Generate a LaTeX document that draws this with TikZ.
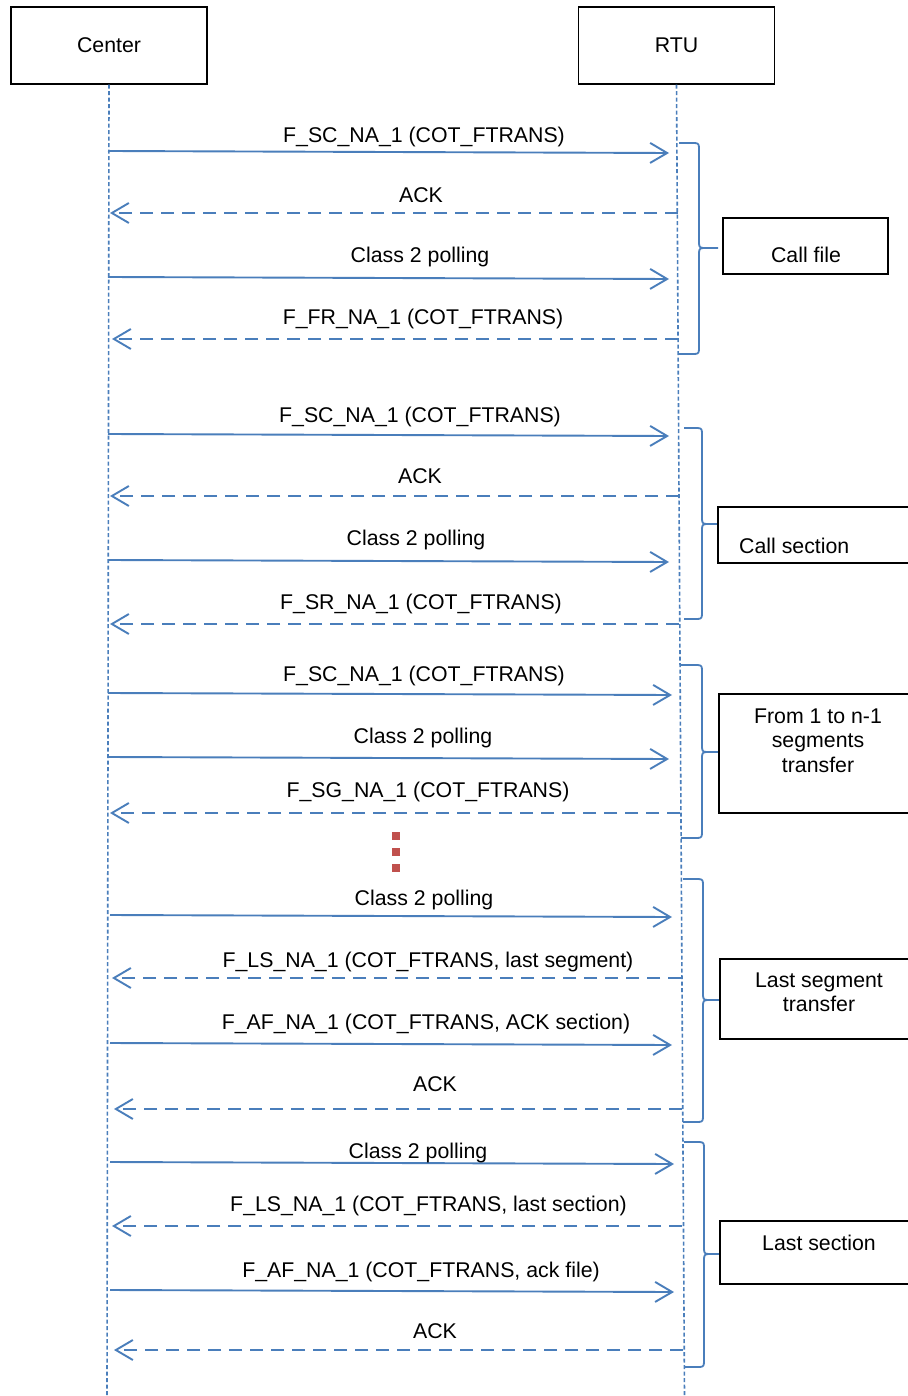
\documentclass[tikz,border=0pt]{standalone}
\usepackage{fontspec}
\setmainfont{Liberation Sans}
\usetikzlibrary{arrows.meta}
\definecolor{lblue}{RGB}{74,126,187}
\definecolor{dred}{RGB}{192,80,77}
% brace: #1 start x, #2 top y, #3 bottom y, #4 vertical x, #5 tip x, #6 tip y
\newcommand\mybrace[6]{%
  \draw[brc] (#1,#2) -- (#4-5,#2) .. controls (#4-1,#2) and (#4,#2+1) .. (#4,#2+5)
    -- (#4,#6-5) .. controls (#4,#6-1) and (#4+1,#6) .. (#4+5,#6) -- (#5,#6);
  \draw[brc] (#4+5,#6) .. controls (#4+1,#6) and (#4,#6+1) .. (#4,#6+5)
    -- (#4,#3-5) .. controls (#4,#3-1) and (#4-1,#3) .. (#4-5,#3) -- (#1,#3);}
\begin{document}
\begin{tikzpicture}[x=1pt,y=-1pt,
  txt/.style={font=\fontsize{21.3}{24.5}\selectfont, inner sep=0pt, text=black},
  lbl/.style={txt, anchor=base},
  actor/.style={draw=black, line width=1.2pt, minimum width=196pt, minimum height=77pt,
     font=\fontsize{21.3}{24.5}\selectfont, inner sep=0pt},
  sbox/.style={draw=black, line width=1.2pt, inner sep=0pt},
  life/.style={draw=lblue, line width=1.6pt, dash pattern=on 4pt off 2.5pt},
  msg/.style={draw=lblue, line width=1.9pt, -{Straight Barb[length=17pt,width=20pt]}},
  rep/.style={msg, dash pattern=on 13pt off 8pt},
  brc/.style={draw=lblue, line width=1.8pt, line join=round}]
\useasboundingbox (0,0) rectangle (907,1396);
\fill[white] (0,0) rectangle (907,1396);

% actors
\node[actor] (center) at (109,45.5) {Center};
\node[actor] (rtu) at (676.5,45.5) {RTU};
\coordinate (cbot) at (107,1396);
\coordinate (rbot) at (684.5,1396);
\draw[life] (center.south) -- (cbot);
\draw[life] (rtu.south) -- (rbot);

% messages
\coordinate (a1s) at (108,151);  \coordinate (a1e) at (669,153);
\draw[msg] (a1s) -- (a1e);
\node[lbl] (l1) at (424,143) {F\_SC\_NA\_1 (COT\_FTRANS)};

\coordinate (a2s) at (678,213);  \coordinate (a2e) at (110,213);
\draw[rep] (a2s) -- (a2e);
\node[lbl] (l2) at (421,203) {ACK};

\coordinate (a3s) at (108,277);  \coordinate (a3e) at (669,279);
\draw[msg] (a3s) -- (a3e);
\node[lbl] (l3) at (420,263) {Class 2 polling};

\coordinate (a4s) at (678,339);  \coordinate (a4e) at (112,339);
\draw[rep] (a4s) -- (a4e);
\node[lbl] (l4) at (423,324) {F\_FR\_NA\_1 (COT\_FTRANS)};

\coordinate (a5s) at (108,434);  \coordinate (a5e) at (669,436);
\draw[msg] (a5s) -- (a5e);
\node[lbl] (l5) at (420,422) {F\_SC\_NA\_1 (COT\_FTRANS)};

\coordinate (a6s) at (679,496);  \coordinate (a6e) at (110,496);
\draw[rep] (a6s) -- (a6e);
\node[lbl] (l6) at (420,483) {ACK};

\coordinate (a7s) at (108,560);  \coordinate (a7e) at (669,562);
\draw[msg] (a7s) -- (a7e);
\node[lbl] (l7) at (416,545) {Class 2 polling};

\coordinate (a8s) at (679,624);  \coordinate (a8e) at (110,624);
\draw[rep] (a8s) -- (a8e);
\node[lbl] (l8) at (421,609) {F\_SR\_NA\_1 (COT\_FTRANS)};

\coordinate (a9s) at (108,693);  \coordinate (a9e) at (672,695);
\draw[msg] (a9s) -- (a9e);
\node[lbl] (l9) at (424,681) {F\_SC\_NA\_1 (COT\_FTRANS)};

\coordinate (a10s) at (108,757); \coordinate (a10e) at (669,759);
\draw[msg] (a10s) -- (a10e);
\node[lbl] (l10) at (423,743) {Class 2 polling};

\coordinate (a11s) at (680,813); \coordinate (a11e) at (110,813);
\draw[rep] (a11s) -- (a11e);
\node[lbl] (l11) at (428,797) {F\_SG\_NA\_1 (COT\_FTRANS)};

% ellipsis dots
\fill[dred] (392,832) rectangle (400,840);
\fill[dred] (392,848) rectangle (400,856);
\fill[dred] (392,864) rectangle (400,872);

\coordinate (a12s) at (110,915); \coordinate (a12e) at (672,917);
\draw[msg] (a12s) -- (a12e);
\node[lbl] (l12) at (424,905) {Class 2 polling};

\coordinate (a13s) at (681,978); \coordinate (a13e) at (112,978);
\draw[rep] (a13s) -- (a13e);
\node[lbl] (l13) at (428,967) {F\_LS\_NA\_1 (COT\_FTRANS, last segment)};

\coordinate (a14s) at (110,1043); \coordinate (a14e) at (672,1045);
\draw[msg] (a14s) -- (a14e);
\node[lbl] (l14) at (426,1029) {F\_AF\_NA\_1 (COT\_FTRANS, ACK section)};

\coordinate (a15s) at (682,1109); \coordinate (a15e) at (114,1109);
\draw[rep] (a15s) -- (a15e);
\node[lbl] (l15) at (435,1091) {ACK};

\coordinate (a16s) at (110,1162); \coordinate (a16e) at (674,1164);
\draw[msg] (a16s) -- (a16e);
\node[lbl] (l16) at (418,1158) {Class 2 polling};

\coordinate (a17s) at (682,1226); \coordinate (a17e) at (112,1226);
\draw[rep] (a17s) -- (a17e);
\node[lbl] (l17) at (428.5,1211) {F\_LS\_NA\_1 (COT\_FTRANS, last section)};

\coordinate (a18s) at (110,1290); \coordinate (a18e) at (674,1292);
\draw[msg] (a18s) -- (a18e);
\node[lbl] (l18) at (421,1277) {F\_AF\_NA\_1 (COT\_FTRANS, ack file)};

\coordinate (a19s) at (683,1350); \coordinate (a19e) at (114,1350);
\draw[rep] (a19s) -- (a19e);
\node[lbl] (l19) at (435,1338) {ACK};

% braces
\mybrace{679}{143}{354}{699}{718}{248}
\mybrace{684}{428}{619}{702}{717}{524}
\mybrace{681}{665}{838}{702}{718}{752}
\mybrace{683}{879}{1122}{703}{720}{1000}
\mybrace{684}{1142}{1367}{704}{719}{1254}

% side boxes
\node[sbox, minimum width=165pt, minimum height=56pt] (b1) at (805.5,246) {};
\node[lbl] (t1) at (806,263) {Call file};
\node[sbox, minimum width=194pt, minimum height=56pt] (b2) at (815,535) {};
\node[txt, anchor=base west] (t2) at (739,553) {Call section};
\node[sbox, minimum width=193pt, minimum height=119pt] (b3) at (815.5,753.5) {};
\node[txt, anchor=north, align=center] (t3) at (818,708.5) {From 1 to n-1\\segments\\transfer};
\node[sbox, minimum width=192pt, minimum height=80pt] (b4) at (816,999) {};
\node[txt, anchor=north, align=center] (t4) at (819,972.5) {Last segment\\transfer};
\node[sbox, minimum width=192pt, minimum height=63pt] (b5) at (816,1252.5) {};
\node[lbl] (t5) at (819,1250) {Last section};
\end{tikzpicture}
\end{document}
